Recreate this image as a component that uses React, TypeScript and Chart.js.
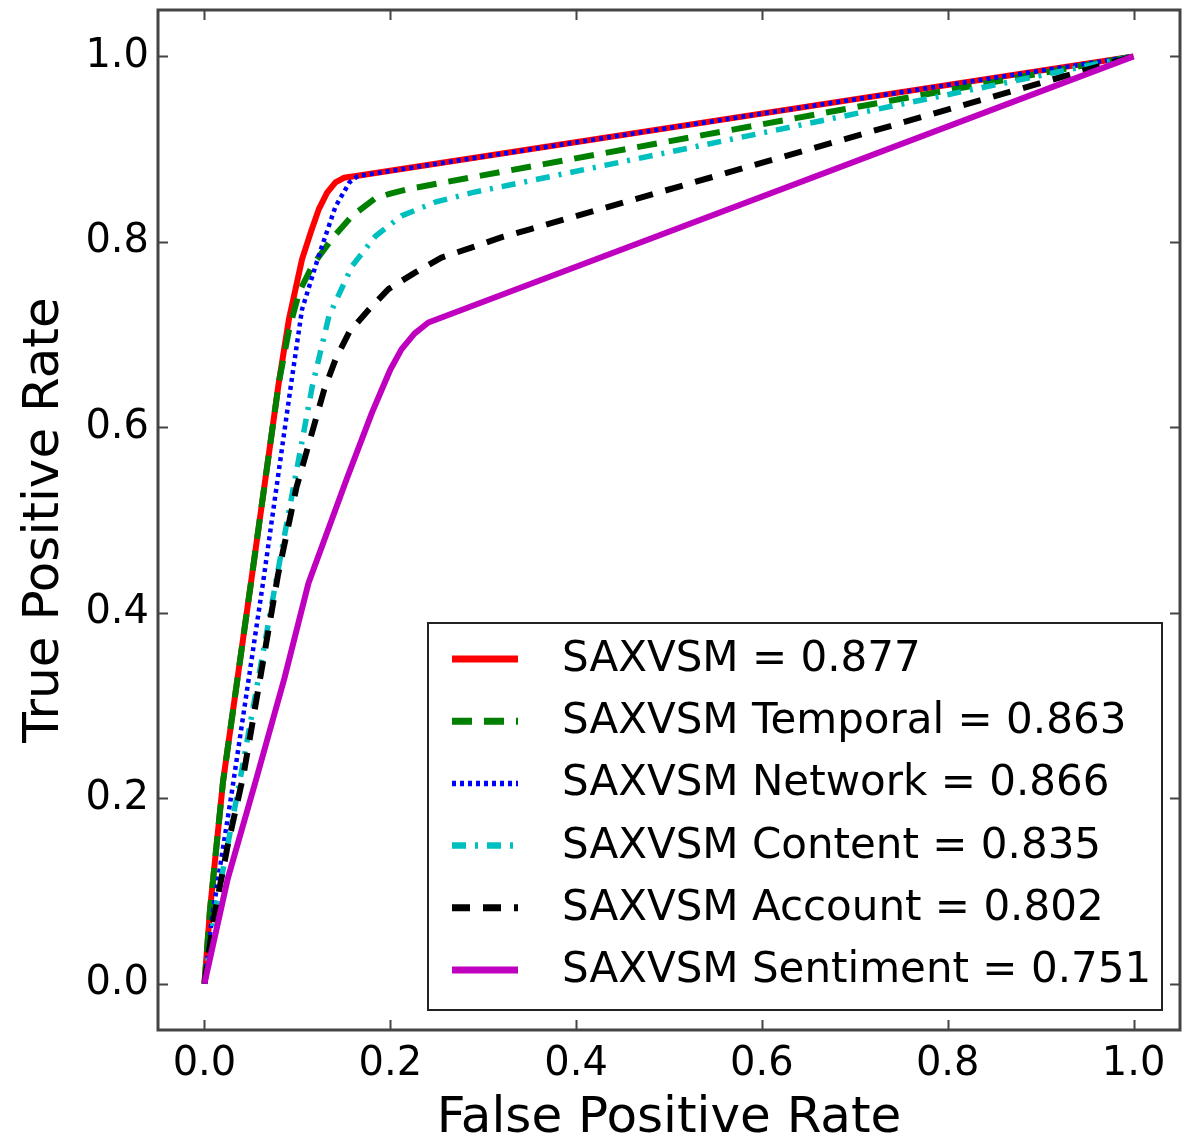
import { useEffect, useRef } from "react";
import { Chart, registerables } from "chart.js";

Chart.register(...registerables);

const seriesLabels = [
  "SAXVSM = 0.877",
  "SAXVSM Temporal = 0.863",
  "SAXVSM Network = 0.866",
  "SAXVSM Content = 0.835",
  "SAXVSM Account = 0.802",
  "SAXVSM Sentiment = 0.751",
];

const saxvsmFpr = [0, 0.006, 0.02, 0.05, 0.08, 0.091, 0.105, 0.115, 0.123, 0.132, 0.141, 0.15, 0.163, 1.0];
const saxvsmTpr = [0, 0.08, 0.218, 0.432, 0.648, 0.717, 0.781, 0.812, 0.835, 0.853, 0.864, 0.869, 0.871, 1.0];

const temporalFpr = [0, 0.006, 0.02, 0.05, 0.08, 0.091, 0.102, 0.116, 0.137, 0.159, 0.184, 0.2, 0.22, 0.252, 1.0];
const temporalTpr = [0, 0.08, 0.218, 0.432, 0.648, 0.705, 0.746, 0.774, 0.803, 0.828, 0.847, 0.852, 0.857, 0.863, 1.0];

const networkFpr = [0, 0.008, 0.03, 0.063, 0.093, 0.105, 0.123, 0.141, 0.156, 0.165, 1.0];
const networkTpr = [0, 0.07, 0.21, 0.432, 0.645, 0.727, 0.785, 0.838, 0.864, 0.871, 1.0];

const contentFpr = [0, 0.01, 0.038, 0.077, 0.116, 0.134, 0.159, 0.184, 0.212, 0.249, 0.288, 0.327, 1.0];
const contentTpr = [0, 0.07, 0.218, 0.434, 0.644, 0.72, 0.774, 0.806, 0.828, 0.843, 0.853, 0.861, 1.0];

const accountFpr = [0, 0.01, 0.025, 0.042, 0.079, 0.099, 0.129, 0.141, 0.156, 0.177, 0.198, 0.227, 0.255, 0.288, 0.32, 0.352, 1.0];
const accountTpr = [0, 0.07, 0.149, 0.225, 0.44, 0.535, 0.641, 0.673, 0.703, 0.727, 0.749, 0.767, 0.783, 0.794, 0.805, 0.814, 1.0];

const sentimentFpr = [0, 0.025, 0.055, 0.086, 0.112, 0.153, 0.18, 0.191, 0.2, 0.212, 0.226, 0.241, 1.0];
const sentimentTpr = [0, 0.113, 0.218, 0.329, 0.432, 0.544, 0.615, 0.641, 0.662, 0.684, 0.701, 0.713, 1.0];

const xTickValues = [0, 0.2, 0.4, 0.6, 0.8, 1.0];
const yTickValues = [0, 0.2, 0.4, 0.6, 0.8, 1.0];

const FONT = "'DejaVu Sans', sans-serif";

function pts(xs: number[], ys: number[]) {
  return xs.map((x, i) => ({ x, y: ys[i] }));
}

const framePlugin = {
  id: "frameAndLegend",
  afterDatasetsDraw(chart: any) {
    const { ctx, chartArea: a, scales } = chart;
    const xs = scales.x;
    const ys = scales.y;
    ctx.save();
    ctx.strokeStyle = "#444";
    ctx.lineWidth = 2;
    const tl = 10;
    ctx.beginPath();
    for (const v of xTickValues) {
      const p = Math.round(xs.getPixelForValue(v)) + 0.5;
      ctx.moveTo(p, a.bottom);
      ctx.lineTo(p, a.bottom - tl);
      ctx.moveTo(p, a.top);
      ctx.lineTo(p, a.top + tl);
    }
    for (const v of yTickValues) {
      const p = Math.round(ys.getPixelForValue(v)) + 0.5;
      ctx.moveTo(a.left, p);
      ctx.lineTo(a.left + tl, p);
      ctx.moveTo(a.right, p);
      ctx.lineTo(a.right - tl, p);
    }
    ctx.stroke();
    ctx.strokeStyle = "#444";
    ctx.lineWidth = 3;
    ctx.strokeRect(a.left, a.top, a.right - a.left, a.bottom - a.top);

    const bx = a.right - 752;
    const by = a.bottom - 407;
    const bw = 734;
    const bh = 387;
    ctx.fillStyle = "#fff";
    ctx.fillRect(bx, by, bw, bh);
    ctx.strokeStyle = "#222";
    ctx.lineWidth = 2;
    ctx.strokeRect(bx, by, bw, bh);
    const rowStart = by + 36;
    const rowGap = 62.2;
    ctx.font = `42px ${FONT}`;
    ctx.textBaseline = "middle";
    ctx.textAlign = "left";
    chart.data.datasets.forEach((ds: any, i: number) => {
      const yy = rowStart + i * rowGap;
      ctx.save();
      ctx.strokeStyle = ds.borderColor;
      ctx.lineWidth = ds.borderWidth + 1;
      ctx.setLineDash(ds.borderDash || []);
      ctx.lineCap = "butt";
      ctx.beginPath();
      ctx.moveTo(bx + 24, yy);
      ctx.lineTo(bx + 90, yy);
      ctx.stroke();
      ctx.restore();
      ctx.fillStyle = "#000";
      ctx.fillText(ds.label, bx + 134, yy + 1);
    });
    ctx.restore();
  },
};

export default function App() {
  const ref = useRef<HTMLCanvasElement | null>(null);

  useEffect(() => {
    if (!ref.current) return;
    const mk = (
      i: number,
      xs: number[],
      ys: number[],
      color: string,
      width: number,
      dash: number[],
      order: number
    ) => ({
      label: seriesLabels[i],
      data: pts(xs, ys),
      borderColor: color,
      backgroundColor: color,
      borderWidth: width,
      borderDash: dash,
      borderJoinStyle: "round" as const,
      pointRadius: 0,
      tension: 0,
      fill: false,
      order,
    });
    const chart = new Chart(ref.current, {
      type: "line",
      data: {
        datasets: [
          mk(0, saxvsmFpr, saxvsmTpr, "#ff0000", 6, [], 6),
          mk(1, temporalFpr, temporalTpr, "#008000", 6, [20, 12], 5),
          mk(2, networkFpr, networkTpr, "#0000ff", 4.5, [4, 4], 4),
          mk(3, contentFpr, contentTpr, "#00bfbf", 5.5, [14, 9, 3, 9], 3),
          mk(4, accountFpr, accountTpr, "#000000", 6, [18, 13], 2),
          mk(5, sentimentFpr, sentimentTpr, "#bf00bf", 6, [], 1),
        ],
      },
      options: {
        responsive: false,
        animation: false,
        parsing: false as any,
        layout: { padding: { top: 10, right: 7, left: 0, bottom: 0 } },
        plugins: {
          legend: { display: false },
          tooltip: { enabled: false },
        },
        scales: {
          x: {
            type: "linear",
            min: -0.05,
            max: 1.05,
            afterBuildTicks: (s: any) => {
              s.ticks = xTickValues.map((v) => ({ value: v }));
            },
            afterFit: (s: any) => {
              s.height = 114;
              s.paddingLeft = 0;
              s.paddingRight = 0;
            },
            grid: { display: false },
            border: { display: false },
            ticks: {
              padding: 3,
              color: "#000",
              font: { family: FONT, size: 40 },
              maxRotation: 0,
              callback: (v: any) => Number(v).toFixed(1),
            },
            title: {
              display: true,
              text: "False Positive Rate",
              color: "#000",
              font: { family: FONT, size: 50, lineHeight: 1 },
              padding: { top: 0, bottom: 0 },
            },
          },
          y: {
            type: "linear",
            min: -0.05,
            max: 1.05,
            afterBuildTicks: (s: any) => {
              s.ticks = yTickValues.map((v) => ({ value: v }));
            },
            afterFit: (s: any) => {
              s.width = 158;
              s.paddingTop = 0;
              s.paddingBottom = 0;
            },
            grid: { display: false },
            border: { display: false },
            ticks: {
              padding: 1,
              color: "#000",
              font: { family: FONT, size: 40 },
              callback: (v: any) => Number(v).toFixed(1),
            },
            title: {
              display: true,
              text: "True Positive Rate",
              color: "#000",
              font: { family: FONT, size: 50, lineHeight: 1 },
              padding: { top: 20, bottom: 0 },
            },
          },
        },
      },
      plugins: [framePlugin],
    });
    return () => chart.destroy();
  }, []);

  return (
    <div style={{ position: "absolute", left: 0, top: 0, width: 1187, height: 1144, background: "#fff" }}>
      <canvas ref={ref} width={1187} height={1144} style={{ display: "block" }} />
    </div>
  );
}
